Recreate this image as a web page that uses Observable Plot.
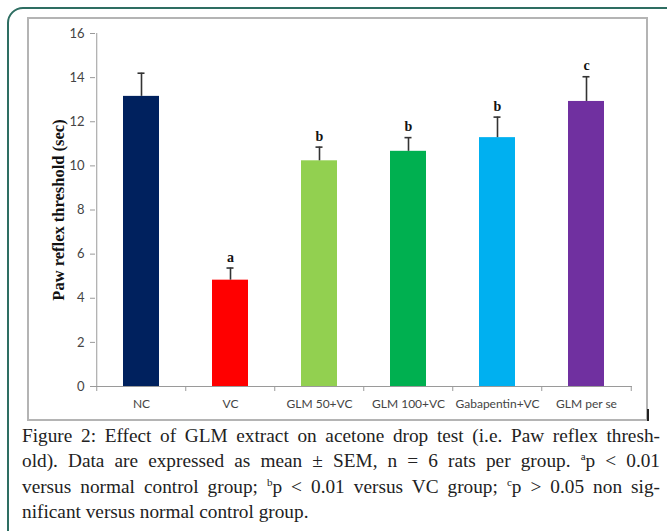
<!DOCTYPE html>
<html>
<head>
<meta charset="utf-8">
<script src="https://cdn.jsdelivr.net/npm/d3@7"></script>
<script src="https://cdn.jsdelivr.net/npm/@observablehq/plot@0.6"></script>
<style>
  html, body { margin: 0; padding: 0; background: #fff; overflow: hidden; }
  body { width: 667px; height: 531px; position: relative; }
  #outer { position: absolute; left: 7px; top: 7px; width: 680px; height: 540px;
           border: 2px solid #2e6e62; border-radius: 16px; box-sizing: border-box; }
  #frame { position: absolute; left: 27px; top: 17px; width: 621px; height: 404px;
           border: 2px solid #b4b4b4; box-sizing: border-box; background: #fff; }
  #frame svg { display: block; }
  #mark { position: absolute; left: 647px; top: 409px; width: 1.5px; height: 12px; background: #222; }
  #caption { position: absolute; left: 22px; top: 423px; width: 638px;
             font-family: "Liberation Serif", "Times New Roman", Times, serif; font-size: 19.3px;
             line-height: 25.3px; color: #222; }
  #caption .l { text-align: justify; text-align-last: justify; white-space: nowrap; }
  #caption .last { text-align: left; text-align-last: left; }
  #caption sup { font-size: 11px; vertical-align: 7px; line-height: 0; }
</style>
</head>
<body>
<div id="outer"></div>
<div id="frame"></div>
<div id="mark"></div>
<div id="caption">
  <div class="l">Figure 2: Effect of GLM extract on acetone drop test (i.e. Paw reflex thresh-</div>
  <div class="l">old). Data are expressed as mean ± SEM, n = 6 rats per group. <sup>a</sup>p &lt; 0.01</div>
  <div class="l">versus normal control group; <sup>b</sup>p &lt; 0.01 versus VC group; <sup>c</sup>p &gt; 0.05 non sig-</div>
  <div class="l last">nificant versus normal control group.</div>
</div>
<script>
const categories = ["NC", "VC", "GLM 50+VC", "GLM 100+VC", "Gabapentin+VC", "GLM per se"];
const means = [13.15, 4.82, 10.23, 10.66, 11.28, 12.92];
const sems = [1.05, 0.55, 0.62, 0.62, 0.93, 1.12];
const letters = ["", "a", "b", "b", "b", "c"];
const colors = ["#00215e", "#ff0000", "#92d050", "#00b050", "#00b0f0", "#7030a0"];
const yTicks = [0, 2, 4, 6, 8, 10, 12, 14, 16];
const yLabel = "Paw reflex threshold (sec)";

const data = categories.map((c, i) => ({cat: c, mean: means[i], sem: sems[i], top: means[i] + sems[i], sig: letters[i], color: colors[i]}));

const W = 617, H = 400;
const mL = 66, mR = 14, mT = 14, mB = 33;
const step = (W - mL - mR) / categories.length;

const axisColor = "#9a9a9a";
const tickFont = "Lato, 'Open Sans', sans-serif";

const chart = Plot.plot({
  width: W,
  height: H,
  marginLeft: mL,
  marginRight: mR,
  marginTop: mT,
  marginBottom: mB,
  style: {background: "transparent", overflow: "visible"},
  x: {domain: categories, paddingInner: 0.6, paddingOuter: 0.3},
  y: {domain: [0, 16]},
  color: {type: "identity"},
  marks: [
    Plot.barY(data, {x: "cat", y: "mean", fill: "color"}),
    Plot.ruleX(data, {x: "cat", y1: "mean", y2: "top", stroke: "#333", strokeWidth: 1.6}),
    Plot.tickY(data, {x: "cat", y: "top", stroke: "#333", strokeWidth: 1.6, insetLeft: 14.5, insetRight: 14.5}),
    Plot.text(data, {x: "cat", y: "top", text: "sig", dy: -11, fontFamily: "'Liberation Serif', serif", fontWeight: "bold", fontSize: 14, fill: "#111"}),
    Plot.ruleY([0], {stroke: axisColor, strokeWidth: 1}),
    Plot.ruleX([categories[0]], {y1: 0, y2: 16, dx: -step / 2, stroke: axisColor, strokeWidth: 1}),
    Plot.ruleX(categories, {y1: 0, y2: 0, dx: -step / 2, insetBottom: -5, stroke: axisColor}),
    Plot.ruleX([categories[categories.length - 1]], {y1: 0, y2: 0, dx: step / 2, insetBottom: -5, stroke: axisColor}),
    Plot.axisX({tickSize: 0, tickPadding: 13, fontSize: 12, fontFamily: tickFont, fill: "#444", label: null}),
    Plot.axisY(yTicks, {tickSize: 5, tickPadding: 6, stroke: axisColor, fontSize: 13, fontFamily: tickFont, fill: "#444", label: null}),
    Plot.text([yLabel], {frameAnchor: "left", textAnchor: "middle", rotate: -90, dx: -37, fontFamily: "'Liberation Serif', serif", fontWeight: "bold", fontSize: 16.5, fill: "#111"})
  ]
});
document.getElementById("frame").appendChild(chart);
</script>
</body>
</html>
